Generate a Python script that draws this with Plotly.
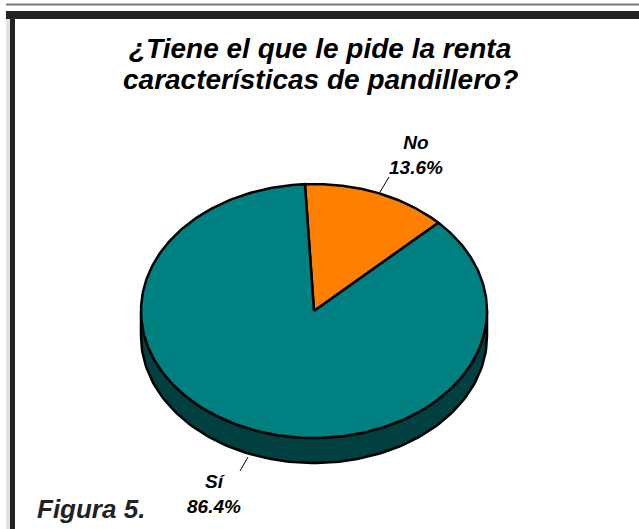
import numpy as np
import plotly.graph_objects as go

# chart data
labels = ["No", "Sí"]
values = [13.6, 86.4]
top_colors = ["#FF8000", "#008080"]
side_colors = ["#7F4000", "#004040"]
title_lines = ["¿Tiene el que le pide la renta", "características de pandillero?"]
caption = "Figura 5."

W, H = 639, 529
# pie geometry (pixels, y grows downward)
CX, CY, RX, RY, DEPTH = 314, 311, 173, 127, 25
START = -3  # degrees clockwise from 12 o'clock

FONT = "Liberation Sans, Arial, sans-serif"


def ellipse(theta, dy=0):
    t = np.radians(theta)
    return CX + RX * np.sin(t), CY - RY * np.cos(t) + dy


fig = go.Figure()

# slice angle ranges
bounds = []
a = START
for v in values:
    b = a + v / sum(values) * 360
    bounds.append((a, b))
    a = b

# side walls (front half only: 90..270 deg)
for (a0, a1), col in zip(bounds, side_colors):
    for shift in (0, 360):
        lo, hi = max(a0, 90 + shift), min(a1, 270 + shift)
        if hi <= lo:
            continue
        th = np.linspace(lo, hi, 120)
        xt, yt = ellipse(th)
        xb, yb = ellipse(th[::-1], DEPTH)
        fig.add_trace(go.Scatter(
            x=np.concatenate([xt, xb, xt[:1]]), y=np.concatenate([yt, yb, yt[:1]]),
            mode="lines", fill="toself", fillcolor=col,
            line=dict(color="black", width=2.5), hoverinfo="skip", showlegend=False))

# top faces
for (a0, a1), col, lab, v in zip(bounds, top_colors, labels, values):
    th = np.linspace(a0, a1, 300)
    xs, ys = ellipse(th)
    fig.add_trace(go.Scatter(
        x=np.concatenate([[CX], xs, [CX]]), y=np.concatenate([[CY], ys, [CY]]),
        mode="lines", fill="toself", fillcolor=col,
        line=dict(color="black", width=2.5), name=lab,
        hovertemplate=f"{lab}: {v}%<extra></extra>", showlegend=False))

# slice labels with leader lines
label_pos = {"No": (416, 155, 389, 177, 380, 192),
             "Sí": (214, 494, 240, 471, 248, 457)}
for lab, v in zip(labels, values):
    tx, ty, lx0, ly0, lx1, ly1 = label_pos[lab]
    fig.add_trace(go.Scatter(x=[lx0, lx1], y=[ly0, ly1], mode="lines",
                             line=dict(color="black", width=1),
                             hoverinfo="skip", showlegend=False))
    fig.add_annotation(x=tx, y=ty, text=f"<b><i>{lab}<br>{v}%</i></b>",
                       showarrow=False, font=dict(family=FONT, size=19, color="black"))

# title and caption
for line, ty in zip(title_lines, (48, 79)):
    fig.add_annotation(x=320, y=ty, text=f"<b><i>{line}</i></b>",
                       showarrow=False, font=dict(family=FONT, size=28, color="black"))
fig.add_annotation(x=35, y=509, xanchor="left", text=f"<b><i>{caption}</i></b>",
                   showarrow=False, font=dict(family=FONT, size=26, color="#222222"))

# frame
frame = [
    dict(type="line", x0=6, x1=W, y0=4.5, y1=4.5, line=dict(color="#7A7A7A", width=2)),
    dict(type="rect", x0=6, x1=10, y0=11, y1=H, fillcolor="#E2E2E2", line_width=0),
    dict(type="rect", x0=6, x1=W, y0=11, y1=19, fillcolor="#222222", line_width=0),
    dict(type="rect", x0=10, x1=15, y0=11, y1=H, fillcolor="#222222", line_width=0),
]
for s in frame:
    s.update(xref="x", yref="y", layer="below")
    fig.add_shape(**s)

fig.update_layout(
    width=W, height=H, margin=dict(l=0, r=0, t=0, b=0),
    paper_bgcolor="white", plot_bgcolor="white",
    xaxis=dict(range=[0, W], visible=False, fixedrange=True),
    yaxis=dict(range=[H, 0], visible=False, fixedrange=True),
)

fig.write_html("out.html", config={"displayModeBar": False},
               post_script="document.body.style.margin='0';document.body.style.overflow='hidden';")
